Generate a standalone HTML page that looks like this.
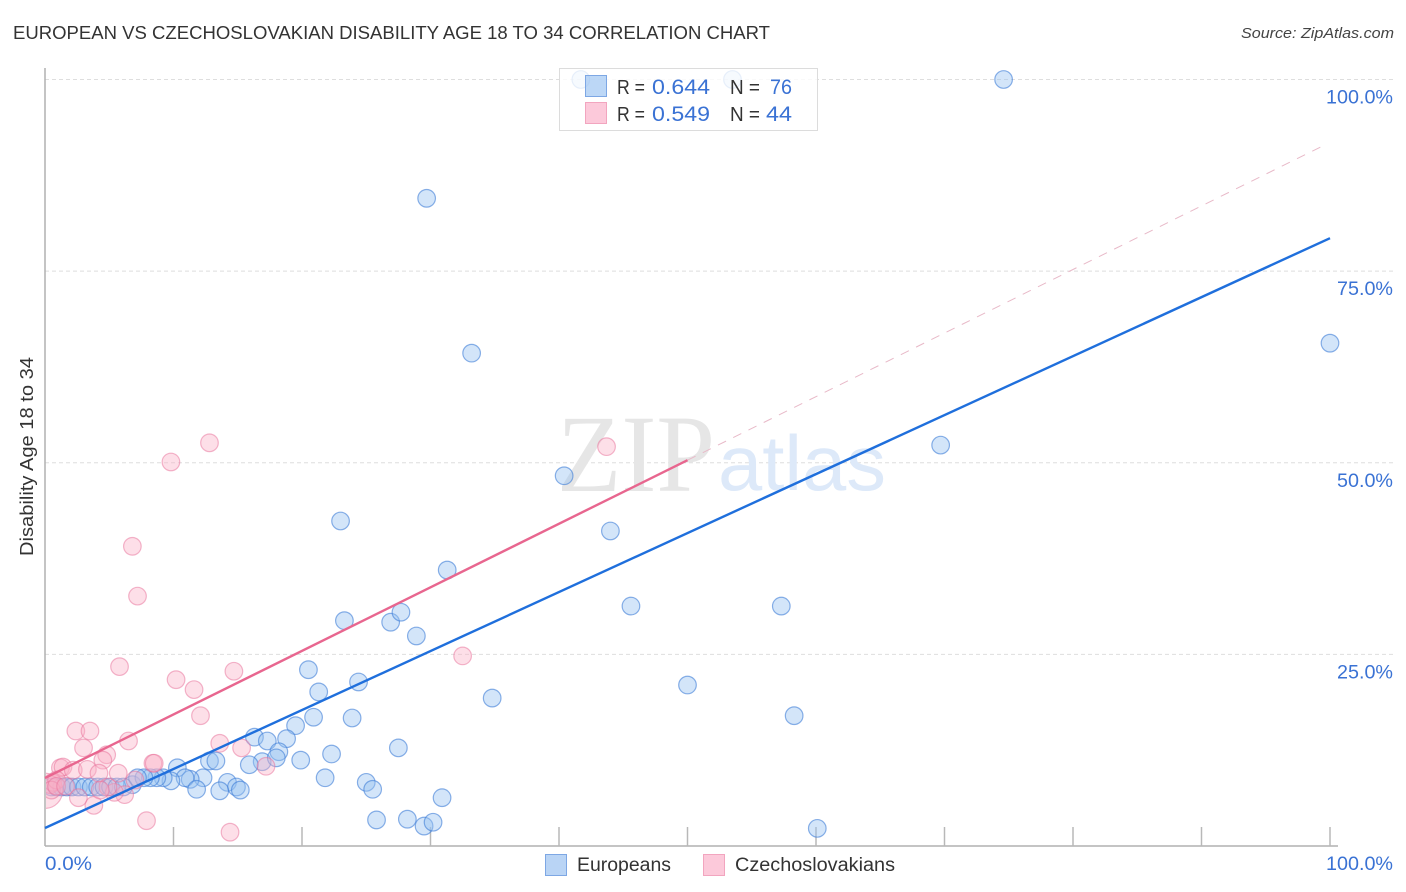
<!DOCTYPE html>
<html lang="en">
<head>
<meta charset="utf-8">
<title>European vs Czechoslovakian Disability Age 18 to 34 Correlation Chart</title>
<style>
html,body{margin:0;padding:0;background:#fff;}
body{width:1406px;height:892px;overflow:hidden;font-family:"Liberation Sans",sans-serif;}
svg{display:block;}
</style>
</head>
<body>
<svg id="chart" width="1406" height="892" viewBox="0 0 1406 892" xmlns="http://www.w3.org/2000/svg" font-family="'Liberation Sans',sans-serif">
  <defs>
    <clipPath id="plot-clip"><rect x="46" y="60" width="1350" height="786"></rect></clipPath>
  </defs>
  <text x="13" y="39" font-size="18.5" fill="#333" textLength="757" lengthAdjust="spacingAndGlyphs">EUROPEAN VS CZECHOSLOVAKIAN DISABILITY AGE 18 TO 34 CORRELATION CHART</text>
  <text x="1394" y="38" font-size="15" font-style="italic" fill="#444" text-anchor="end" textLength="153" lengthAdjust="spacingAndGlyphs">Source: ZipAtlas.com</text>

  <g id="grid"></g>

  <g>
    <text x="557" y="491" font-family="'Liberation Serif',serif" font-size="110" fill="#e6e6e6" textLength="158" lengthAdjust="spacingAndGlyphs">ZIP</text>
    <text x="718" y="490" font-size="78" fill="#dde9f9" textLength="168" lengthAdjust="spacingAndGlyphs">atlas</text>
  </g>

  <g id="axes">
    <line x1="45" y1="68" x2="45" y2="846" stroke="#b0b0b0" stroke-width="1.5"></line>
    <line x1="45" y1="846" x2="1338" y2="846" stroke="#b0b0b0" stroke-width="1.5"></line>
  </g>

  <g id="points" clip-path="url(#plot-clip)"></g>
  <g id="trends"></g>
  <g id="tick-labels"></g>

  <text transform="translate(33,556) rotate(-90)" font-size="18.5" fill="#333" textLength="199" lengthAdjust="spacingAndGlyphs">Disability Age 18 to 34</text>

  <g>
    <rect x="559.5" y="68.5" width="258" height="62" fill="#fff" fill-opacity="0.8" stroke="#dcdcdc" stroke-width="1"></rect>
    <rect x="585.5" y="75.5" width="21" height="21" fill="rgba(147,190,240,0.62)" stroke="#7da7e4" stroke-width="1"></rect>
    <rect x="585.5" y="102.5" width="21" height="21" fill="#fcc9da" stroke="#f2a5bf" stroke-width="1"></rect>
    <g font-size="20">
      <text x="617" y="94" fill="#333" textLength="28" lengthAdjust="spacingAndGlyphs">R =</text>
      <text x="652" y="94" fill="#3a72d4" font-size="21" textLength="58" lengthAdjust="spacingAndGlyphs">0.644</text>
      <text x="730" y="94" fill="#333" textLength="30" lengthAdjust="spacingAndGlyphs">N =</text>
      <text x="770" y="94" fill="#3a72d4" font-size="21" textLength="22" lengthAdjust="spacingAndGlyphs">76</text>
      <text x="617" y="121" fill="#333" textLength="28" lengthAdjust="spacingAndGlyphs">R =</text>
      <text x="652" y="121" fill="#3a72d4" font-size="21" textLength="58" lengthAdjust="spacingAndGlyphs">0.549</text>
      <text x="730" y="121" fill="#333" textLength="30" lengthAdjust="spacingAndGlyphs">N =</text>
      <text x="766" y="121" fill="#3a72d4" font-size="21" textLength="26" lengthAdjust="spacingAndGlyphs">44</text>
    </g>
  </g>

  <g>
    <g>
      <rect x="545.5" y="854.5" width="21" height="21" fill="#b9d4f5" stroke="#7da7e4" stroke-width="1"></rect>
      <text x="577" y="871" font-size="19" fill="#333" textLength="94" lengthAdjust="spacingAndGlyphs">Europeans</text>
    </g>
    <g>
      <rect x="703.5" y="854.5" width="21" height="21" fill="#fcc9da" stroke="#f2a5bf" stroke-width="1"></rect>
      <text x="735" y="871" font-size="19" fill="#333" textLength="160" lengthAdjust="spacingAndGlyphs">Czechoslovakians</text>
    </g>
  </g>
</svg>
<script>
var xTickValues = [10,20,30,40,50,60,70,80,90,100];
var yGridValues = [25,50,75,100];
var yTickLabels = ["25.0%","50.0%","75.0%","100.0%"];
var xEndLabels = ["0.0%","100.0%"];

var europeanX = [41.7,53.5,74.6,29.7,33.2,100,69.7,40.4,23.0,44.0,31.3,45.6,57.3,23.3,26.9,27.7,28.9,20.5,50.0,24.4,21.3,34.8,58.3,23.9,20.9,19.5,16.3,18.8,17.3,27.5,22.3,18.2,16.9,18.0,19.9,15.9,12.8,13.3,10.3,21.8,25.0,25.5,14.2,12.3,11.3,10.9,9.8,9.2,8.7,8.2,6.8,7.7,14.9,15.2,13.6,11.8,25.8,28.2,29.5,30.2,30.9,60.1,0.5,0.9,1.3,1.7,2.1,2.6,3.1,3.6,4.1,4.6,5.1,5.6,6.1,7.2];
var europeanY = [100,100,100,84.5,64.3,65.6,52.3,48.3,42.4,41.1,36.0,31.3,31.3,29.4,29.2,30.5,27.4,23.0,21.0,21.4,20.1,19.3,17.0,16.7,16.8,15.7,14.2,14.0,13.7,12.8,12.0,12.3,11.0,11.5,11.2,10.6,11.1,11.1,10.2,8.9,8.3,7.4,8.3,8.9,8.7,8.9,8.5,8.9,8.9,8.9,8.0,8.9,7.7,7.3,7.2,7.4,3.4,3.5,2.6,3.1,6.3,2.3,7.7,7.7,7.7,7.7,7.7,7.7,7.7,7.7,7.7,7.7,7.7,7.7,7.7,8.9];

var czechX = [43.7,12.8,9.8,6.8,7.2,5.8,10.2,11.6,14.7,32.5,12.1,2.4,3.5,3.0,6.5,4.8,4.5,13.6,15.3,8.4,8.5,17.2,1.2,1.4,2.2,3.3,4.2,5.7,7.0,6.2,5.4,3.8,2.6,7.9,14.4,0,0.4,0.6,0.9,0.5,0.9,1.6,4.9,4.3];
var czechY = [52.1,52.6,50.1,39.1,32.6,23.4,21.7,20.4,22.8,24.8,17.0,15.0,15.0,12.8,13.7,11.9,11.2,13.4,12.8,10.8,10.8,10.4,10.2,10.3,9.9,10.0,9.5,9.5,8.6,6.7,7.0,5.3,6.3,3.3,1.8,7.2,8.0,8.3,8.6,7.3,7.8,7.8,7.7,7.3];
var czechBubble = [1,1,1,1,1,1,1,1,1,1,1,1,1,1,1,1,1,1,1,1,1,1,1,1,1,1,1,1,1,1,1,1,1,1,1,2,1,1,1,1,1,1,1,1];

var europeanTrend = [2.35,79.3];
var czechTrend = [8.87,91.8];
var czechSolidEnd = 50;
var czechDashEnd = 99.8;

var NS = 'http://www.w3.org/2000/svg';
function sx(v){ return 45 + v * 12.85; }
function sy(v){ return 846 - v * 7.665; }
function lerpTrend(t, x){ return t[0] + (t[1] - t[0]) * x / 100; }

var gridG = document.getElementById('grid');
var axesG = document.getElementById('axes');
var labelsG = document.getElementById('tick-labels');
var pointsG = document.getElementById('points');
var trendsG = document.getElementById('trends');

yGridValues.forEach(function(v, i){
  var l = document.createElementNS(NS, 'line');
  
  
  l.setAttribute('x1', 45);
  l.setAttribute('x2', 1393);
  l.setAttribute('y1', sy(v));
  l.setAttribute('y2', sy(v));
  l.setAttribute('stroke', '#dedede');
  l.setAttribute('stroke-width', 1);
  l.setAttribute('stroke-dasharray', '4 3');
  gridG.appendChild(l);

  var t = document.createElementNS(NS, 'text');
  
  
  t.setAttribute('x', 1393);
  t.setAttribute('y', sy(v) + 24);
  t.setAttribute('font-size', 19.5);
  t.setAttribute('fill', '#3a72d4');
  t.setAttribute('text-anchor', 'end');
  t.setAttribute('textLength', yTickLabels[i].length > 5 ? 67 : 56);
  t.setAttribute('lengthAdjust', 'spacingAndGlyphs');
  t.textContent = yTickLabels[i];
  labelsG.appendChild(t);
});

xTickValues.forEach(function(v){
  var l = document.createElementNS(NS, 'line');
  
  
  l.setAttribute('x1', sx(v));
  l.setAttribute('x2', sx(v));
  l.setAttribute('y1', 827);
  l.setAttribute('y2', 846);
  l.setAttribute('stroke', '#b8b8b8');
  l.setAttribute('stroke-width', 1.5);
  axesG.appendChild(l);
});

var xl0 = document.createElementNS(NS, 'text');


xl0.setAttribute('x', 45);
xl0.setAttribute('y', 870);
xl0.setAttribute('font-size', 19.5);
xl0.setAttribute('fill', '#3a72d4');
xl0.setAttribute('textLength', 47);
xl0.setAttribute('lengthAdjust', 'spacingAndGlyphs');
xl0.textContent = xEndLabels[0];
labelsG.appendChild(xl0);

var xl1 = document.createElementNS(NS, 'text');


xl1.setAttribute('x', 1393);
xl1.setAttribute('y', 870);
xl1.setAttribute('font-size', 19.5);
xl1.setAttribute('fill', '#3a72d4');
xl1.setAttribute('text-anchor', 'end');
xl1.setAttribute('textLength', 67);
xl1.setAttribute('lengthAdjust', 'spacingAndGlyphs');
xl1.textContent = xEndLabels[1];
labelsG.appendChild(xl1);

europeanX.forEach(function(x, i){
  var c = document.createElementNS(NS, 'circle');
  
  
  c.setAttribute('cx', sx(x));
  c.setAttribute('cy', sy(europeanY[i]));
  c.setAttribute('r', 8.8);
  c.setAttribute('fill', 'rgba(150,192,240,0.42)');
  c.setAttribute('stroke', 'rgba(62,125,215,0.6)');
  c.setAttribute('stroke-width', 1.2);
  pointsG.appendChild(c);
});

czechX.forEach(function(x, i){
  var c = document.createElementNS(NS, 'circle');
  
  
  c.setAttribute('cx', sx(x));
  c.setAttribute('cy', sy(czechY[i]));
  c.setAttribute('r', 8.8 * czechBubble[i]);
  c.setAttribute('fill', 'rgba(250,175,198,0.4)');
  c.setAttribute('stroke', 'rgba(232,115,155,0.52)');
  c.setAttribute('stroke-width', 1.2);
  pointsG.appendChild(c);
});

var dash = document.createElementNS(NS, 'line');


dash.setAttribute('x1', sx(czechSolidEnd));
dash.setAttribute('y1', sy(lerpTrend(czechTrend, czechSolidEnd)));
dash.setAttribute('x2', sx(czechDashEnd));
dash.setAttribute('y2', sy(lerpTrend(czechTrend, czechDashEnd)));
dash.setAttribute('stroke', '#e8b9c8');
dash.setAttribute('stroke-width', 1);
dash.setAttribute('stroke-dasharray', '9 8');
trendsG.appendChild(dash);

var pinkLine = document.createElementNS(NS, 'line');


pinkLine.setAttribute('x1', sx(0));
pinkLine.setAttribute('y1', sy(lerpTrend(czechTrend, 0)));
pinkLine.setAttribute('x2', sx(czechSolidEnd));
pinkLine.setAttribute('y2', sy(lerpTrend(czechTrend, czechSolidEnd)));
pinkLine.setAttribute('stroke', '#e8668f');
pinkLine.setAttribute('stroke-width', 2.4);
trendsG.appendChild(pinkLine);

var blueLine = document.createElementNS(NS, 'line');


blueLine.setAttribute('x1', sx(0));
blueLine.setAttribute('y1', sy(lerpTrend(europeanTrend, 0)));
blueLine.setAttribute('x2', sx(100));
blueLine.setAttribute('y2', sy(lerpTrend(europeanTrend, 100)));
blueLine.setAttribute('stroke', '#1f6fdc');
blueLine.setAttribute('stroke-width', 2.4);
trendsG.appendChild(blueLine);
</script>
</body>
</html>
